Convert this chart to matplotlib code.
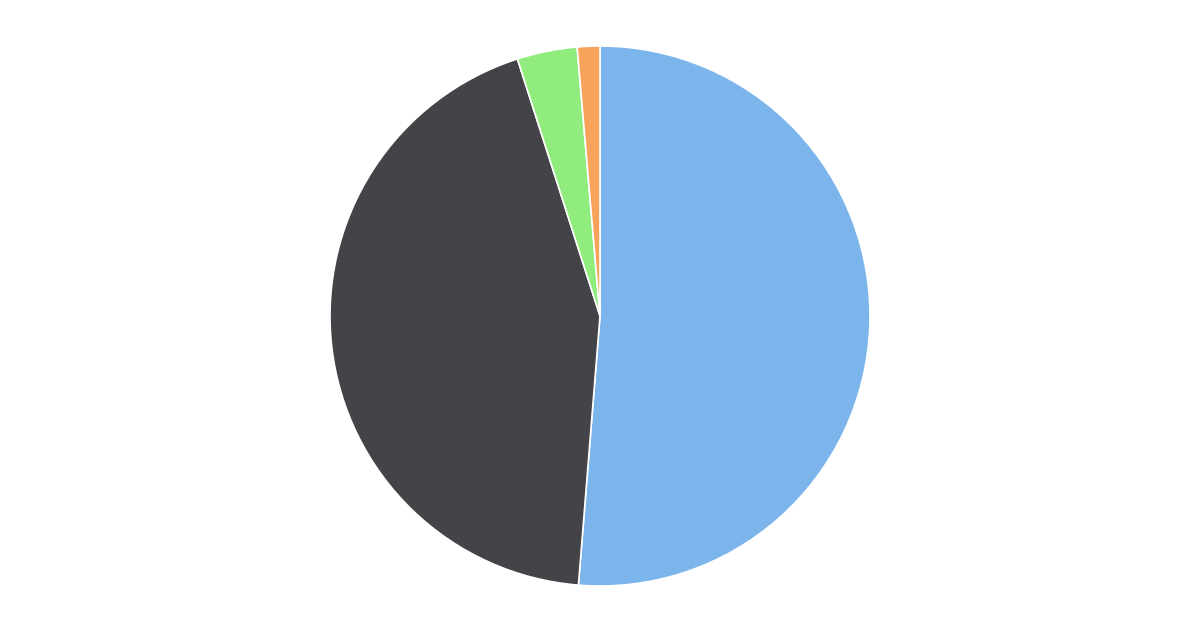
import matplotlib
matplotlib.use("Agg")
import matplotlib.pyplot as plt

# Slice data (percent of total)
labels = ["A", "B", "C", "D"]
values = [51.3, 43.8, 3.6, 1.35]
colors = ["#7cb5ec", "#434348", "#90ed7d", "#f7a35c"]

fig = plt.figure(figsize=(12, 6.4), dpi=100)
# Place the pie so its centre sits at (600, 316) px with a 270 px radius
ax = fig.add_axes([330 / 1200, 54 / 640, 540 / 1200, 540 / 640])

ax.pie(values, colors=colors, startangle=90, counterclock=False,
       radius=1.0, wedgeprops=dict(edgecolor="white", linewidth=1.2))
ax.set_xlim(-1.0, 1.0)
ax.set_ylim(-1.0, 1.0)
ax.set_aspect("equal")
ax.axis("off")

fig.savefig("out.png", dpi=100, facecolor="white")
